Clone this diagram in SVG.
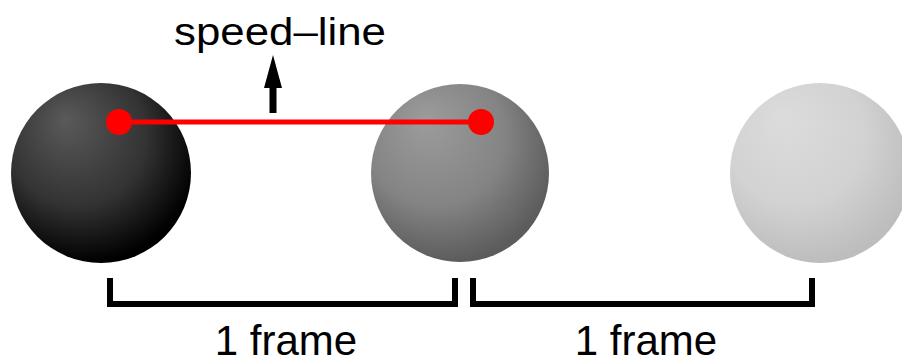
<svg xmlns="http://www.w3.org/2000/svg" width="902" height="364" viewBox="0 0 902 364">
<style>
.lbl{font-family:"Liberation Sans",Arial,sans-serif;fill:#000;}
.brk{fill:none;stroke:#000;stroke-width:6;stroke-linejoin:miter;stroke-linecap:butt;}
.red{fill:#ff0000;}
</style>
<defs>
<radialGradient id="g1" cx="0.4" cy="0.35" r="0.65" fx="0.3" fy="0.2">
<stop offset="0" stop-color="#5a5a5a"/>
<stop offset="0.6" stop-color="#333"/>
<stop offset="1" stop-color="#000"/>
</radialGradient>
<radialGradient id="g2" cx="0.4" cy="0.35" r="0.65" fx="0.3" fy="0.2">
<stop offset="0" stop-color="#9c9c9c"/>
<stop offset="0.6" stop-color="#848484"/>
<stop offset="1" stop-color="#5c5c5c"/>
</radialGradient>
<radialGradient id="g3" cx="0.4" cy="0.35" r="0.65" fx="0.3" fy="0.2">
<stop offset="0" stop-color="#dcdcdc"/>
<stop offset="0.6" stop-color="#d2d2d2"/>
<stop offset="1" stop-color="#bdbdbd"/>
</radialGradient>
</defs>
<g id="ball1"><circle cx="101" cy="173" r="90" fill="url(#g1)"/></g>
<g id="ball2"><circle cx="460" cy="173" r="89" fill="url(#g2)"/></g>
<g id="ball3"><circle cx="820" cy="173" r="90" fill="url(#g3)"/></g>
<g id="connectors">
<line x1="119" y1="122" x2="481" y2="122" stroke="#ff0000" stroke-width="5"/>
<circle class="red" cx="119" cy="122" r="13"/>
<circle class="red" cx="481" cy="122" r="13"/>
<polygon points="269.5,113 276.5,113 276.5,88 282,88 273,55 264,88 269.5,88" fill="#000"/>
<path class="brk" d="M110,278 V304 H455 V278"/>
<path class="brk" d="M473,278 V304 H812 V278"/>
</g>
<g id="labels">
<text class="lbl" x="280" y="45" font-size="38" text-anchor="middle" textLength="212" lengthAdjust="spacingAndGlyphs">speed–line</text>
<text class="lbl" x="286" y="355" font-size="42" text-anchor="middle">1 frame</text>
<text class="lbl" x="646" y="355" font-size="42" text-anchor="middle">1 frame</text>
</g>
</svg>
